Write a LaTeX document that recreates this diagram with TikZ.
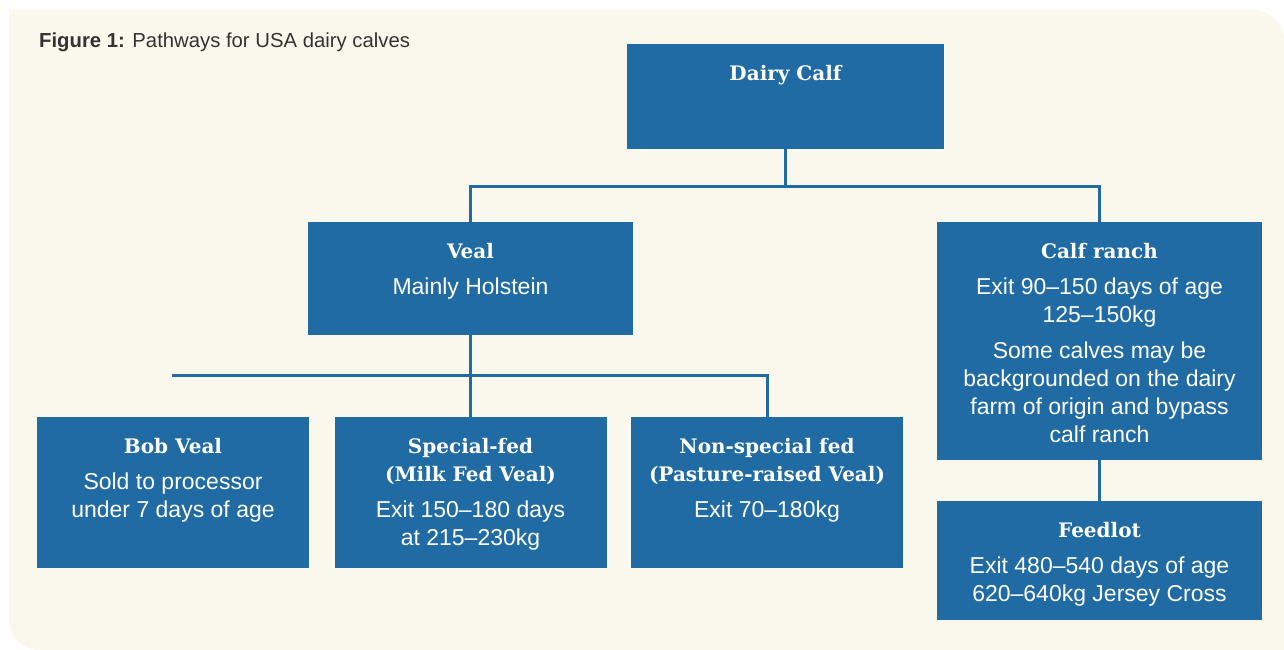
\documentclass[tikz,border=0pt]{standalone}
\usepackage{fontspec}
\setmainfont{Liberation Sans}
\newfontfamily\slab{DejaVu Serif}
\definecolor{boxblue}{HTML}{206BA4}
\definecolor{cream}{HTML}{FAF8EC}
\definecolor{captiongray}{HTML}{333333}
\newcommand{\ttl}{\slab\bfseries\fontsize{20}{28}\selectfont}
\tikzset{
  box/.style={fill=boxblue, draw=none, inner sep=0pt, rectangle},
  txt/.style={text=white, align=center, inner sep=0pt, anchor=north, font=\fontsize{23}{28}\selectfont},
  conn/.style={draw=boxblue, line width=3pt},
}
\begin{document}
\begin{tikzpicture}[x=1pt,y=-1pt]
\useasboundingbox (0,0) rectangle (1284,650);
% background
\fill[cream] (9,10) -- (1254,10) .. controls (1270.6,10) and (1284,23.4) .. (1284,40)
  -- (1284,650) -- (39,650) .. controls (22.4,650) and (9,636.6) .. (9,620) -- cycle;

\node[anchor=west, inner sep=0pt, text=captiongray, font=\fontsize{20.3}{24}\selectfont] (cap) at (39,42)
  {\textbf{Figure 1:} Pathways for USA dairy calves};

% boxes
\node[box, minimum width=317pt, minimum height=105pt] (dairy) at (785.5,96.5) {};
\node[box, minimum width=325pt, minimum height=113pt] (veal) at (470.5,278.5) {};
\node[box, minimum width=325pt, minimum height=238pt] (calf) at (1099.5,341) {};
\node[box, minimum width=272pt, minimum height=151pt] (bob) at (173,492.5) {};
\node[box, minimum width=272pt, minimum height=151pt] (special) at (470.5,492.5) {};
\node[box, minimum width=272pt, minimum height=151pt] (nonspecial) at (767,492.5) {};
\node[box, minimum width=325pt, minimum height=119pt] (feedlot) at (1099.5,560.5) {};

% texts
\node[txt] (dairyt) at ([yshift=-21.5pt]dairy.north) {{\ttl Dairy Calf}};
\node[txt] (vealt) at ([yshift=-21.5pt]veal.north) {{\ttl Veal}\\[8pt]Mainly Holstein};
\node[txt] (calft) at ([yshift=-21.5pt]calf.north) {{\ttl Calf ranch}\\[8pt]Exit 90–150 days of age\\125–150kg\\[8pt]Some calves may be\\backgrounded on the dairy\\farm of origin and bypass\\calf ranch};
\node[txt] (bobt) at ([yshift=-21.5pt]bob.north) {{\ttl Bob Veal}\\[8pt]Sold to processor\\under 7 days of age};
\node[txt] (specialt) at ([yshift=-21.5pt]special.north) {{\ttl Special-fed}\\{\ttl (Milk Fed Veal)}\\[8pt]Exit 150–180 days\\at 215–230kg};
\node[txt] (nonspecialt) at ([yshift=-21.5pt]nonspecial.north) {{\ttl Non-special fed}\\{\ttl (Pasture-raised Veal)}\\[8pt]Exit 70–180kg};
\node[txt] (feedlott) at ([yshift=-21.5pt]feedlot.north) {{\ttl Feedlot}\\[8pt]Exit 480–540 days of age\\620–640kg Jersey Cross};

% connectors
\path (dairy.south) ++(0,37) coordinate (dj);
\draw[conn] (dairy.south) -- (dj);
\draw[conn] (veal.north) |- (dj) -| (calf.north);
\draw[conn] (veal.south) -- (special.north);
\coordinate (busL) at (172,375);
\draw[conn] (busL) -| (nonspecial.north);
\draw[conn] (calf.south) -- (feedlot.north);
\end{tikzpicture}
\end{document}
